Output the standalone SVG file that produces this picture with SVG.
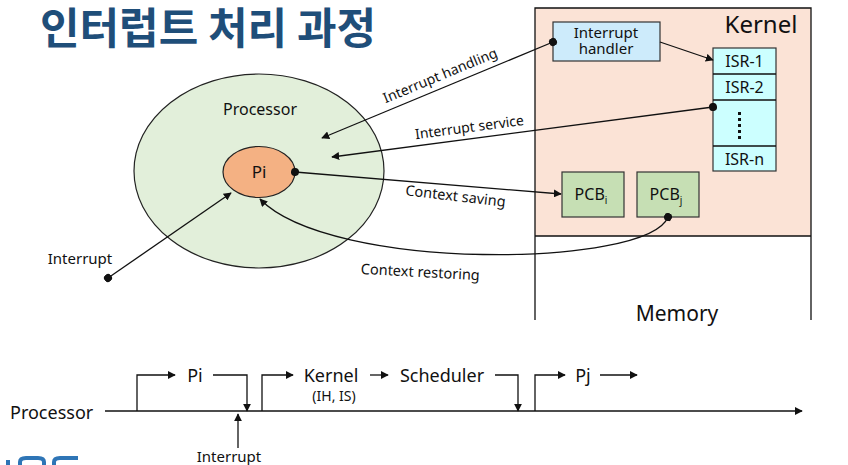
<svg xmlns="http://www.w3.org/2000/svg" width="848" height="465" viewBox="0 0 848 465">
<style>
  .t { font-family: "Noto Sans", "Open Sans", sans-serif; fill: #111; }
  .ln { stroke: #111; stroke-width: 1.3; fill: none; }
  .box { stroke: #333; stroke-width: 1.2; }
</style>
<defs>
  <marker id="ah" viewBox="0 0 10 10" refX="9" refY="5" markerWidth="8" markerHeight="8" markerUnits="userSpaceOnUse" orient="auto">
    <path d="M0,0 L10,5 L0,10 z" fill="#111"/>
  </marker>
  <marker id="dot" viewBox="0 0 10 10" refX="5" refY="5" markerWidth="8" markerHeight="8" markerUnits="userSpaceOnUse" orient="auto">
    <circle cx="5" cy="5" r="5" fill="#111"/>
  </marker>
</defs>
<rect width="848" height="465" fill="#fff"/>

<text x="40" y="44" font-family="Noto Sans CJK KR, sans-serif" font-weight="bold" font-size="43" fill="#1f4e79">인터럽트 처리 과정</text>

<g id="memory">
  <rect x="535" y="8" width="276" height="228" fill="#fbe3d6"/>
  <path d="M535,320 V8 H811 V320 M535,236 H811" class="ln" stroke="#333"/>
  <text x="761" y="33" class="t" font-size="24" text-anchor="middle">Kernel</text>
  <text x="677" y="321" class="t" font-size="21" text-anchor="middle">Memory</text>
</g>

<g id="handler">
  <rect x="553" y="22" width="107" height="39" fill="#cdebfb" class="box"/>
  <text class="t" font-size="15" text-anchor="middle"><tspan x="606" y="38">Interrupt</tspan><tspan x="606" y="54">handler</tspan></text>
</g>

<g id="isr">
  <rect x="713" y="48" width="63" height="123" fill="#ccffff" class="box"/>
  <path d="M713,74 H776 M713,100 H776 M713,146 H776" class="ln" stroke="#333"/>
  <text x="744.5" y="67" class="t" font-size="16" text-anchor="middle">ISR-1</text>
  <text x="744.5" y="93" class="t" font-size="16" text-anchor="middle">ISR-2</text>
  <g fill="#111">
    <rect x="738" y="112" width="3" height="3"/>
    <rect x="738" y="118" width="3" height="3"/>
    <rect x="738" y="124" width="3" height="3"/>
    <rect x="738" y="130" width="3" height="3"/>
    <rect x="738" y="136" width="3" height="3"/>
  </g>
  <text x="744.5" y="165" class="t" font-size="16" text-anchor="middle">ISR-n</text>
</g>

<g id="pcbi">
  <rect x="562" y="172" width="62" height="45" fill="#c6dfb4" class="box"/>
  <text x="591" y="200" class="t" font-size="16" text-anchor="middle">PCB<tspan font-size="10" dy="4">i</tspan></text>
</g>
<g id="pcbj">
  <rect x="637" y="172" width="62" height="45" fill="#c6dfb4" class="box"/>
  <text x="666" y="200" class="t" font-size="16" text-anchor="middle">PCB<tspan font-size="10" dy="4">j</tspan></text>
</g>

<g id="processor">
  <ellipse cx="259" cy="171" rx="125" ry="97" fill="#e2efda" stroke="#222" stroke-width="1.2"/>
  <text x="260" y="115" class="t" font-size="16" text-anchor="middle">Processor</text>
</g>
<g id="pi">
  <ellipse cx="259" cy="172" rx="36" ry="25.5" fill="#f4b183" stroke="#222" stroke-width="1.2"/>
  <text x="259" y="178" class="t" font-size="17" text-anchor="middle">Pi</text>
</g>

<g id="connectors">
  <line x1="553" y1="42" x2="322" y2="138" class="ln" marker-start="url(#dot)" marker-end="url(#ah)"/>
  <line x1="660" y1="42" x2="713" y2="60" class="ln" marker-end="url(#ah)"/>
  <line x1="713" y1="107" x2="332" y2="157" class="ln" marker-start="url(#dot)" marker-end="url(#ah)"/>
  <line x1="295" y1="172" x2="561" y2="194" class="ln" marker-start="url(#dot)" marker-end="url(#ah)"/>
  <path d="M668,217 C648,268 330,272 260,199" class="ln" marker-start="url(#dot)" marker-end="url(#ah)"/>
  <line x1="108" y1="278" x2="231" y2="193" class="ln" marker-start="url(#dot)" marker-end="url(#ah)"/>
</g>

<g id="labels">
  <text class="t" font-size="14" text-anchor="middle" transform="translate(442,80) rotate(-22.5)">Interrupt handling</text>
  <text class="t" font-size="14" text-anchor="middle" transform="translate(470,132) rotate(-7.5)">Interrupt service</text>
  <text class="t" font-size="14.5" text-anchor="middle" transform="translate(455,201) rotate(6.5)">Context saving</text>
  <text class="t" font-size="14.5" text-anchor="middle" transform="translate(420,277) rotate(3)">Context restoring</text>
  <text x="80" y="264" class="t" font-size="15" text-anchor="middle">Interrupt</text>
</g>

<g id="timeline">
  <text x="10" y="419" class="t" font-size="18">Processor</text>
  <line x1="105" y1="411" x2="802" y2="411" class="ln" marker-end="url(#ah)"/>
  <path d="M137,411 V375 H175" class="ln" marker-end="url(#ah)"/>
  <text x="195" y="382" class="t" font-size="18" text-anchor="middle">Pi</text>
  <path d="M213,375 H247 V411" class="ln" marker-end="url(#ah)"/>
  <line x1="238" y1="448" x2="238" y2="414" class="ln" marker-end="url(#ah)"/>
  <text x="229" y="462" class="t" font-size="15" text-anchor="middle">Interrupt</text>
  <path d="M262,411 V375 H293" class="ln" marker-end="url(#ah)"/>
  <text x="331" y="382" class="t" font-size="18" text-anchor="middle">Kernel</text>
  <text x="334" y="401" class="t" font-size="14" text-anchor="middle">(IH, IS)</text>
  <line x1="370" y1="375" x2="388" y2="375" class="ln" marker-end="url(#ah)"/>
  <text x="442" y="382" class="t" font-size="18" text-anchor="middle">Scheduler</text>
  <path d="M495,375 H518 V411" class="ln" marker-end="url(#ah)"/>
  <path d="M535,411 V375 H565" class="ln" marker-end="url(#ah)"/>
  <text x="583" y="382" class="t" font-size="18" text-anchor="middle">Pj</text>
  <line x1="600" y1="375" x2="637" y2="375" class="ln" marker-end="url(#ah)"/>
</g>

<g id="logo" fill="none" stroke="#2e75b6" stroke-width="4">
  <path d="M8,465 V460"/>
  <path d="M20,465 V462 Q20,458 26,458 H38 Q44,458 44,462 V465"/>
  <path d="M54,465 V462 Q54,458 60,458 H78"/>
</g>
</svg>
